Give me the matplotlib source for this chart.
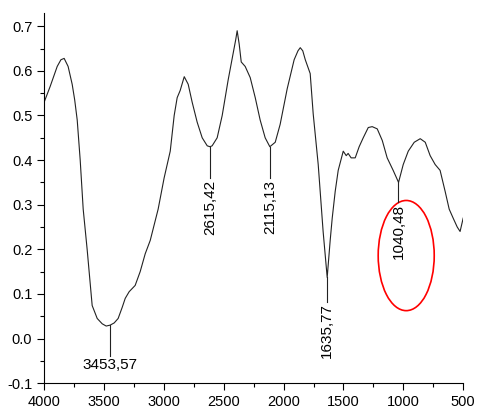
import matplotlib
matplotlib.use("Agg")

import matplotlib.pyplot as plt
from matplotlib.patches import Ellipse
from matplotlib.ticker import MultipleLocator, FormatStrFormatter

# spectrum (wavenumber, absorbance)
wavenumber = [4000, 3950, 3891, 3860, 3833, 3800, 3766, 3745, 3724, 3699,
              3674, 3641, 3599, 3557, 3515, 3482, 3449, 3415, 3382, 3348,
              3323, 3290, 3240, 3198, 3156, 3114, 3048, 2998, 2947, 2914,
              2889, 2864, 2830, 2797, 2764, 2722, 2680, 2638, 2615, 2597,
              2555, 2513, 2463, 2421, 2400, 2388, 2371, 2354, 2321, 2279,
              2237, 2196, 2154, 2115, 2070, 2029, 1970, 1912, 1880, 1861,
              1840, 1819, 1778, 1753, 1711, 1670, 1636, 1611, 1594, 1569,
              1544, 1502, 1477, 1461, 1436, 1402, 1369, 1335, 1293, 1260,
              1218, 1176, 1135, 1085, 1040, 1001, 959, 909, 859, 817,
              776, 734, 693, 651, 617, 584, 550, 526, 500]
absorbance = [0.53, 0.565, 0.61, 0.625, 0.628, 0.61, 0.57, 0.535, 0.49, 0.40,
              0.29, 0.20, 0.074, 0.045, 0.033, 0.028, 0.03, 0.035, 0.045, 0.07,
              0.09, 0.105, 0.119, 0.15, 0.19, 0.22, 0.29, 0.36, 0.42, 0.50,
              0.54, 0.556, 0.587, 0.57, 0.53, 0.485, 0.45, 0.432, 0.43, 0.432,
              0.45, 0.50, 0.58, 0.64, 0.67, 0.69, 0.66, 0.62, 0.61, 0.585,
              0.54, 0.49, 0.45, 0.43, 0.44, 0.48, 0.56, 0.625, 0.645, 0.652,
              0.645, 0.625, 0.594, 0.504, 0.39, 0.24, 0.137, 0.22, 0.27, 0.33,
              0.377, 0.42, 0.41, 0.415, 0.405, 0.405, 0.43, 0.45, 0.473, 0.475,
              0.47, 0.444, 0.405, 0.377, 0.35, 0.39, 0.42, 0.44, 0.448, 0.44,
              0.41, 0.39, 0.377, 0.33, 0.29, 0.27, 0.25, 0.24, 0.27]

# marked bands: position, label, where the leader line ends
peak_x = [3453.57, 2615.42, 2115.13, 1635.77, 1040.48]
peak_y = [0.03, 0.43, 0.43, 0.137, 0.35]
peak_labels = ["3453,57", "2615,42", "2115,13", "1635,77", "1040,48"]
line_end = [-0.04, 0.36, 0.36, 0.083, 0.305]

plt.rcParams["font.family"] = ["Liberation Sans", "DejaVu Sans"]

fig = plt.figure(figsize=(4.8, 4.16), dpi=100)
ax = fig.add_axes([0.092, 0.079, 0.873, 0.89])

ax.plot(wavenumber, absorbance, color="#222222", lw=0.8)

for i, (px, py, lab, ye) in enumerate(zip(peak_x, peak_y, peak_labels, line_end)):
    ax.plot([px, px], [py, ye], color="#222222", lw=0.8)
    if i == 0:
        ax.text(px, ye - 0.004, lab, ha="center", va="top", fontsize=11)
    else:
        ax.text(px, ye - 0.004, lab, ha="center", va="top", rotation=90,
                fontsize=11)

ax.add_patch(Ellipse((976, 0.186), 468, 0.247, fill=False,
                     edgecolor="red", lw=1.2))

ax.set_xlim(4000, 500)
ax.set_ylim(-0.1, 0.73)
ax.xaxis.set_major_locator(MultipleLocator(500))
ax.xaxis.set_minor_locator(MultipleLocator(250))
ax.yaxis.set_major_locator(MultipleLocator(0.1))
ax.yaxis.set_minor_locator(MultipleLocator(0.05))
ax.yaxis.set_major_formatter(FormatStrFormatter("%.1f"))
ax.tick_params(which="both", direction="out", labelsize=10.5, width=0.8)
ax.tick_params(which="major", length=5)
ax.tick_params(which="minor", length=3)
ax.spines["top"].set_visible(False)
ax.spines["right"].set_visible(False)

fig.savefig("out.png", dpi=100)
